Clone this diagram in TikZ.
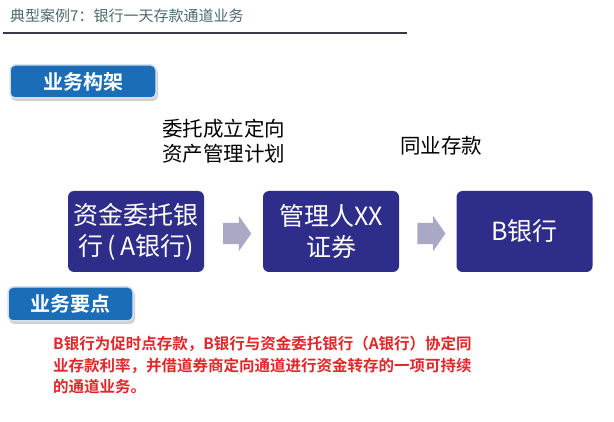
\documentclass[tikz,border=0pt]{standalone}
\usepackage{fontspec}
\setmainfont{Noto Sans CJK SC}
\newfontfamily\cjkb{Noto Sans CJK SC Bold}
\usetikzlibrary{shapes.arrows,calc}
\definecolor{boxblue}{HTML}{2E2D8A}
\definecolor{arrowgray}{HTML}{A9A9C6}
\definecolor{tagblue}{HTML}{1B6DB8}
\definecolor{tagedge}{HTML}{D4E2F0}
\definecolor{redtxt}{HTML}{E2262A}
\definecolor{titlecol}{HTML}{4D6B6E}
\definecolor{rulecol}{HTML}{3A3A4A}
\tikzset{
  fs/.style={font=\fontsize{#1}{#1}\selectfont},
  mainbox/.style={fill=boxblue, rounded corners=6pt, minimum width=136pt, minimum height=81pt, text=white, align=center, inner sep=0pt, font=\fontsize{25}{31}\selectfont},
  blockarrow/.style={single arrow, fill=arrowgray, draw=none, minimum height=28pt, inner xsep=0pt, inner ysep=10.5pt, single arrow head extend=7pt, single arrow tip angle=110, single arrow head indent=0pt},
  tag/.style={fill=tagblue, draw=tagedge, line width=1.5pt, rounded corners=5pt, text=white, inner sep=0pt, font=\cjkb\fontsize{20}{20}\selectfont},
  plain/.style={align=left, inner sep=0pt, text=black, font=\fontsize{20.5}{25}\selectfont},
}
\begin{document}
\begin{tikzpicture}[x=1pt,y=-1pt]
\useasboundingbox[fill=white] (0,0) rectangle (614,422);
% title
\node[anchor=west, inner sep=0pt, text=titlecol, fs=15] (title) at (10,16) {典型案例7：银行一天存款通道业务};
\coordinate (rl) at (3,33);
\coordinate (rr) at (407,33);
\draw[rulecol, line width=1.8pt] (rl) -- (rr);
% tags
\fill[black!18, rounded corners=5pt] (11,68) rectangle (158,101);
\fill[black!18, rounded corners=5pt] (9,290) rectangle (135,324);
\node[tag, minimum width=146pt, minimum height=33pt] (tag1) at (83,81.5) {业务构架};
\node[tag, minimum width=125pt, minimum height=34pt] (tag2) at (70.5,304) {业务要点};
% labels
\node[plain, anchor=north west] (lab1) at (162,119) {委托成立定向\\资产管理计划};
\node[plain, anchor=north west] (lab2) at (400,136) {同业存款};
% boxes
\node[mainbox] (b1) at (136,231.5) {资金委托银\\行\,(\,A银行)};
\node[mainbox] (b2) at (331,231.5) {管理人XX\\证券};
\node[mainbox] (b3) at (524.5,231.5) {B银行};
% arrows
\node[blockarrow] (a1) at ($(b1.east)!0.5!(b2.west)+(0,2)$) {};
\node[blockarrow] (a2) at ($(b2.east)!0.5!(b3.west)+(0,2)$) {};
% red text
\node[anchor=north west, inner sep=0pt, align=left, text=redtxt, font=\cjkb\fontsize{15.5}{21.5}\selectfont] (body) at (53,336)
{B银行为促时点存款，B银行与资金委托银行（A银行）协定同\\业存款利率，并借道券商定向通道进行资金转存的一项可持续\\的通道业务。};
\end{tikzpicture}
\end{document}
